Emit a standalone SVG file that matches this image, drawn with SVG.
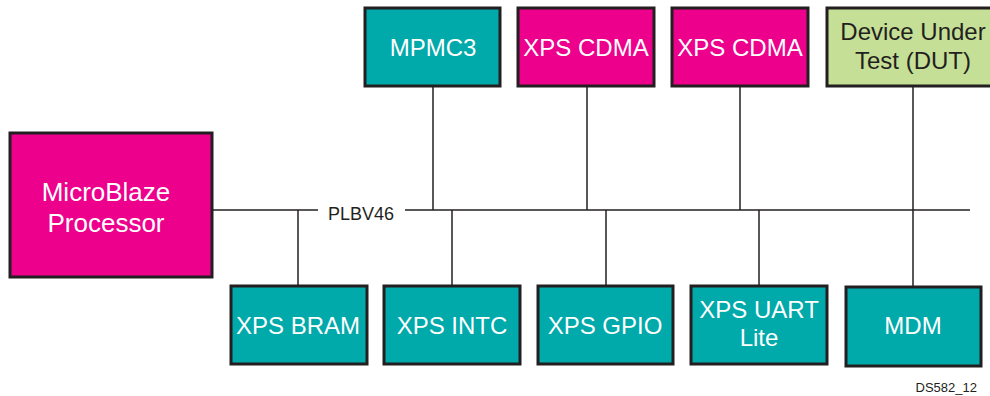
<svg xmlns="http://www.w3.org/2000/svg" width="990" height="396" viewBox="0 0 990 396">
<style>
.box{stroke:#231F20;stroke-width:3}
.teal{fill:#00A9AA}
.mag{fill:#EC008C}
.grn{fill:#C5DF96}
.t{font-family:"Liberation Sans",Arial,sans-serif;font-size:24px;text-anchor:middle;fill:#FFFFFF}
.tk{font-family:"Liberation Sans",Arial,sans-serif;font-size:24px;text-anchor:middle;fill:#231F20}
.ln{stroke:#231F20;stroke-width:1.5;fill:none}
</style>
<rect width="990" height="396" fill="#FFFFFF"/>
<g id="connectors">
<line class="ln" x1="212" y1="210" x2="318" y2="210"/>
<line class="ln" x1="405" y1="210" x2="970" y2="210"/>
<line class="ln" x1="433" y1="86" x2="433" y2="210"/>
<line class="ln" x1="587" y1="86" x2="587" y2="210"/>
<line class="ln" x1="740" y1="86" x2="740" y2="210"/>
<line class="ln" x1="913" y1="86" x2="913" y2="287"/>
<line class="ln" x1="298" y1="210" x2="298" y2="286"/>
<line class="ln" x1="452" y1="210" x2="452" y2="286"/>
<line class="ln" x1="606" y1="210" x2="606" y2="286"/>
<line class="ln" x1="759" y1="210" x2="759" y2="286"/>
<text x="361" y="220" font-family="Liberation Sans,Arial,sans-serif" font-size="18" text-anchor="middle" fill="#231F20">PLBV46</text>
</g>
<g id="microblaze">
<rect class="box mag" x="10" y="133" width="202" height="144"/>
<text class="t" x="106" y="201" style="font-size:26px">MicroBlaze</text>
<text class="t" x="106" y="232" style="font-size:26px">Processor</text>
</g>
<g id="mpmc3">
<rect class="box teal" x="365" y="8" width="135" height="78"/>
<text class="t" x="433" y="56">MPMC3</text>
</g>
<g id="cdma1">
<rect class="box mag" x="518" y="8" width="136" height="78"/>
<text class="t" x="586" y="56">XPS CDMA</text>
</g>
<g id="cdma2">
<rect class="box mag" x="672" y="8" width="136" height="78"/>
<text class="t" x="740" y="56">XPS CDMA</text>
</g>
<g id="dut">
<rect class="box grn" x="827" y="8" width="175" height="78"/>
<text class="tk" x="913" y="40">Device Under</text>
<text class="tk" x="913" y="69">Test (DUT)</text>
</g>
<g id="bram">
<rect class="box teal" x="231" y="286" width="136" height="78"/>
<text class="t" x="298" y="334">XPS BRAM</text>
</g>
<g id="intc">
<rect class="box teal" x="384" y="286" width="136" height="78"/>
<text class="t" x="452" y="334">XPS INTC</text>
</g>
<g id="gpio">
<rect class="box teal" x="538" y="286" width="135" height="78"/>
<text class="t" x="605" y="334">XPS GPIO</text>
</g>
<g id="uart">
<rect class="box teal" x="691" y="286" width="136" height="78"/>
<text class="t" x="759" y="318">XPS UART</text>
<text class="t" x="759" y="346">Lite</text>
</g>
<g id="mdm">
<rect class="box teal" x="846" y="287" width="135" height="79"/>
<text class="t" x="913" y="334">MDM</text>
</g>
<text x="977" y="392" font-family="Liberation Sans,Arial,sans-serif" font-size="13" text-anchor="end" fill="#231F20">DS582_12</text>
</svg>
